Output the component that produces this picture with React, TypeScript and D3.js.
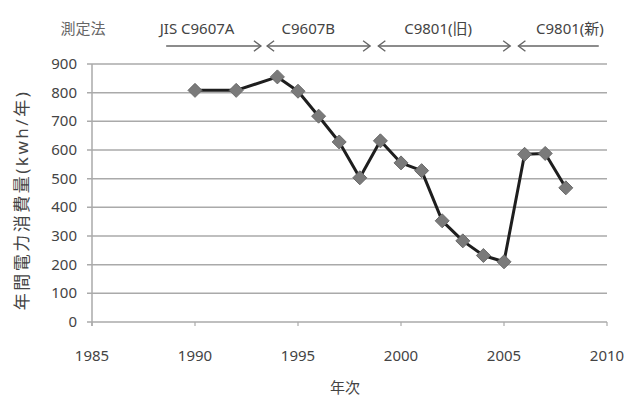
import React from "react";
import * as d3 from "d3";

const years = [1990, 1992, 1994, 1995, 1996, 1997, 1998, 1999, 2000, 2001, 2002, 2003, 2004, 2005, 2006, 2007, 2008];
const consumption = [808, 808, 855, 805, 718, 628, 503, 632, 555, 528, 353, 283, 232, 210, 585, 588, 468];
const yTicks = [0, 100, 200, 300, 400, 500, 600, 700, 800, 900];
const xTicks = [1985, 1990, 1995, 2000, 2005, 2010];

// Measurement-method periods shown across the top
const methodLabels = ["JIS C9607A", "C9607B", "C9801(旧)", "C9801(新)"];
const methodLabelYears = [1990.1, 1995.5, 2001.8, 2008.2];
const methodStart = [1988.6, 1993.5, 1998.9, 2005.7];
const methodEnd = [1993.2, 1998.5, 2005.3, 2009.6];
const arrowLeftHead = [false, true, true, true];
const arrowRightHead = [true, true, true, false];

const W = 627;
const H = 400;
const FONT = "'Noto Sans', 'Noto Sans CJK JP', sans-serif";

export default function App() {
  const x = d3.scaleLinear().domain([1985, 2010]).range([92, 607]);
  const y = d3.scaleLinear().domain([0, 900]).range([322, 64]);
  const line = d3
    .line<number>()
    .x((_, i) => x(years[i]))
    .y((d) => y(d));
  const r = 7;
  const diamond = `M0,${-r}L${r},0L0,${r}L${-r},0Z`;
  const textColor = "#444";
  const arrowY = 46;
  const head = 7;

  return (
    <svg
      width={W}
      height={H}
      style={{ position: "absolute", left: 0, top: 0, background: "#fff" }}
      fontFamily={FONT}
    >
      {/* header */}
      <text x={83} y={34} fontSize={15} fill="#666" textAnchor="middle">
        測定法
      </text>
      {methodLabels.map((t, i) => (
        <text key={t} x={x(methodLabelYears[i])} y={34} fontSize={15} fill={textColor} textAnchor="middle">
          {t}
        </text>
      ))}
      {methodStart.map((s, i) => {
        const x0 = x(s);
        const x1 = x(methodEnd[i]);
        return (
          <g key={i} stroke="#666" strokeWidth={1.4} fill="none">
            <line x1={x0} x2={x1} y1={arrowY} y2={arrowY} />
            {arrowRightHead[i] && (
              <path d={`M${x1 - head},${arrowY - head * 0.75}L${x1},${arrowY}L${x1 - head},${arrowY + head * 0.75}`} />
            )}
            {arrowLeftHead[i] && (
              <path d={`M${x0 + head},${arrowY - head * 0.75}L${x0},${arrowY}L${x0 + head},${arrowY + head * 0.75}`} />
            )}
          </g>
        );
      })}

      {/* gridlines */}
      {yTicks.map((t) => (
        <g key={t}>
          <line x1={x(1985) - 5} x2={x(2010)} y1={y(t)} y2={y(t)} stroke="#aaa" strokeWidth={1.5} />
          <text x={77} y={y(t) + 5} fontSize={15} fill={textColor} textAnchor="end">
            {t}
          </text>
        </g>
      ))}
      <line x1={x(1985)} x2={x(1985)} y1={y(900)} y2={y(0) + 4} stroke="#aaa" strokeWidth={1.5} />
      {xTicks.map((t) => (
        <g key={t}>
          <line x1={x(t)} x2={x(t)} y1={y(0)} y2={y(0) + 4} stroke="#aaa" strokeWidth={1.2} />
          <text x={x(t)} y={361} fontSize={15} fill={textColor} textAnchor="middle">
            {t}
          </text>
        </g>
      ))}

      {/* axis titles */}
      <text x={345} y={393} fontSize={15} fill={textColor} textAnchor="middle">
        年次
      </text>
      <text
        transform={`translate(28,200) rotate(-90)`}
        fontSize={17}
        letterSpacing={2.5}
        fill={textColor}
        textAnchor="middle"
      >
        年間電力消費量(kwh/年)
      </text>

      {/* series */}
      <path d={line(consumption) ?? ""} fill="none" stroke="#1e1e1e" strokeWidth={3} strokeLinejoin="round" />
      {consumption.map((v, i) => (
        <path key={i} d={diamond} transform={`translate(${x(years[i])},${y(v)})`} fill="#7a7a7a" stroke="#6a6a6a" strokeWidth={1} />
      ))}
    </svg>
  );
}
